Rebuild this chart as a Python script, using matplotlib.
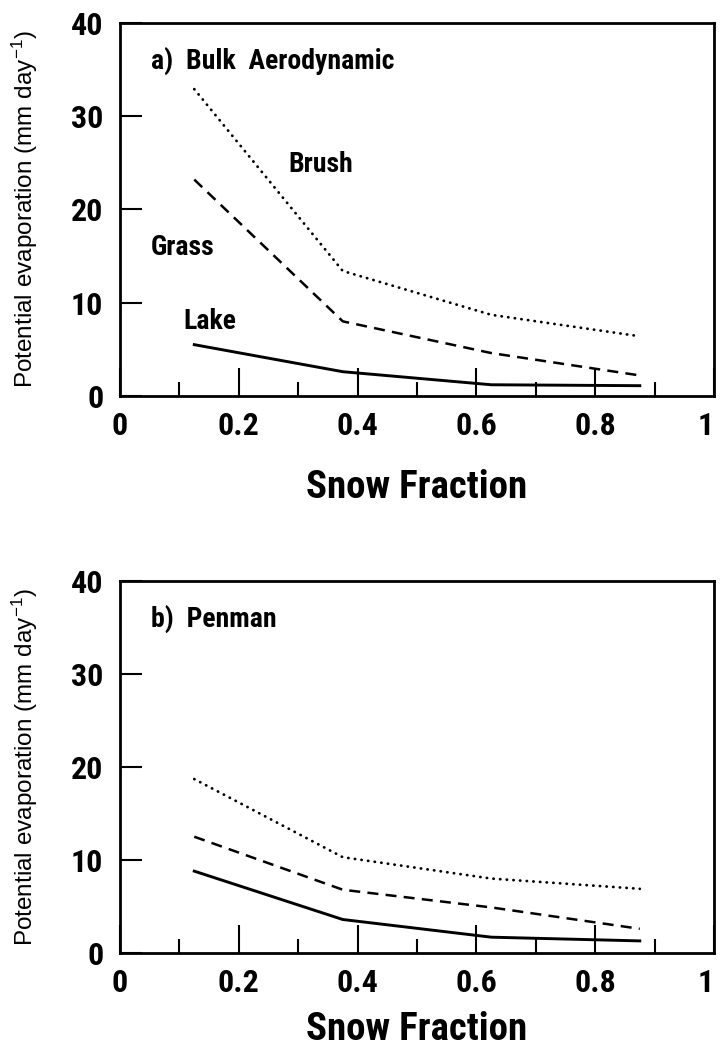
import matplotlib

matplotlib.use("Agg")
import matplotlib.pyplot as plt  # noqa: E402
from matplotlib.ticker import FixedLocator  # noqa: E402

snow_fraction = [0.125, 0.375, 0.625, 0.875]

# bulk aerodynamic estimates (mm/day)
bulk_brush = [32.9, 13.4, 8.7, 6.4]
bulk_grass = [23.2, 8.0, 4.6, 2.2]
bulk_lake = [5.5, 2.6, 1.2, 1.1]

# penman estimates (mm/day)
penman_brush = [18.7, 10.3, 8.0, 6.9]
penman_grass = [12.5, 6.8, 4.9, 2.6]
penman_lake = [8.8, 3.6, 1.7, 1.3]

x_ticks = [0, 0.2, 0.4, 0.6, 0.8, 1.0]
x_ticklabels = ["0", "0.2", "0.4", "0.6", "0.8", "1"]
x_minor = [0.1, 0.3, 0.5, 0.7, 0.9]
y_ticks = [0, 10, 20, 30, 40]
y_ticklabels = ["0", "10", "20", "30", "40"]

BOLD = ["Roboto Condensed", "Barlow Condensed", "DejaVu Sans"]
PLAIN = ["Liberation Sans", "DejaVu Sans"]

plt.rcParams["mathtext.fontset"] = "custom"
plt.rcParams["mathtext.rm"] = "Liberation Sans"
plt.rcParams["mathtext.it"] = "Liberation Sans"


def panel(ax, brush, grass, lake, title, labels, xlabelpad):
    ax.plot(snow_fraction, brush, color="black", lw=2.0,
            linestyle=(0, (0.1, 2.3)), dash_capstyle="round")
    ax.plot(snow_fraction, grass, color="black", lw=1.8,
            linestyle=(0, (4.4, 2.9)))
    ax.plot(snow_fraction, lake, color="black", lw=2.1)

    ax.set_xlim(0, 1)
    ax.set_ylim(0, 40)
    ax.xaxis.set_major_locator(FixedLocator(x_ticks))
    ax.xaxis.set_minor_locator(FixedLocator(x_minor))
    ax.set_xticklabels(x_ticklabels)
    ax.set_yticks(y_ticks)
    ax.set_yticklabels(y_ticklabels)
    ax.tick_params(axis="x", which="major", direction="in", length=20,
                   width=1.5, pad=11, labelsize=23)
    ax.tick_params(axis="x", which="minor", direction="in", length=10,
                   width=1.5)
    ax.tick_params(axis="y", direction="in", length=16, width=1.5,
                   pad=12, labelsize=23)
    for lab in ax.get_xticklabels() + ax.get_yticklabels():
        lab.set_family(BOLD)
        lab.set_fontweight("bold")
    ax.get_xticklabels()[-1].set_horizontalalignment("right")
    for sp in ax.spines.values():
        sp.set_linewidth(2.0)

    ax.set_xlabel("Snow Fraction", family=BOLD, fontweight="bold",
                  fontsize=28, labelpad=xlabelpad)
    ax.set_ylabel("Potential evaporation (mm day$^{-1}$)", family=PLAIN,
                  fontsize=17.5, labelpad=22)

    ax.text(0.052, 35.9, title, family=BOLD, fontweight="bold", fontsize=20,
            va="center", ha="left")
    for txt, x, y in labels:
        ax.text(x, y, txt, family=BOLD, fontweight="bold", fontsize=20,
                va="center", ha="left")


fig = plt.figure(figsize=(7.2, 10.57), dpi=100)
ax_a = fig.add_axes([0.1667, 0.6254, 0.8250, 0.3529])
ax_b = fig.add_axes([0.1667, 0.0984, 0.8250, 0.3520])

panel(ax_a, bulk_brush, bulk_grass, bulk_lake, "a)  Bulk  Aerodynamic",
      [("Brush", 0.284, 24.8), ("Grass", 0.052, 15.9), ("Lake", 0.106, 8.0)],
      xlabelpad=20)
panel(ax_b, penman_brush, penman_grass, penman_lake, "b)  Penman", [],
      xlabelpad=9)

fig.savefig("out.png", dpi=100)
plt.close(fig)
